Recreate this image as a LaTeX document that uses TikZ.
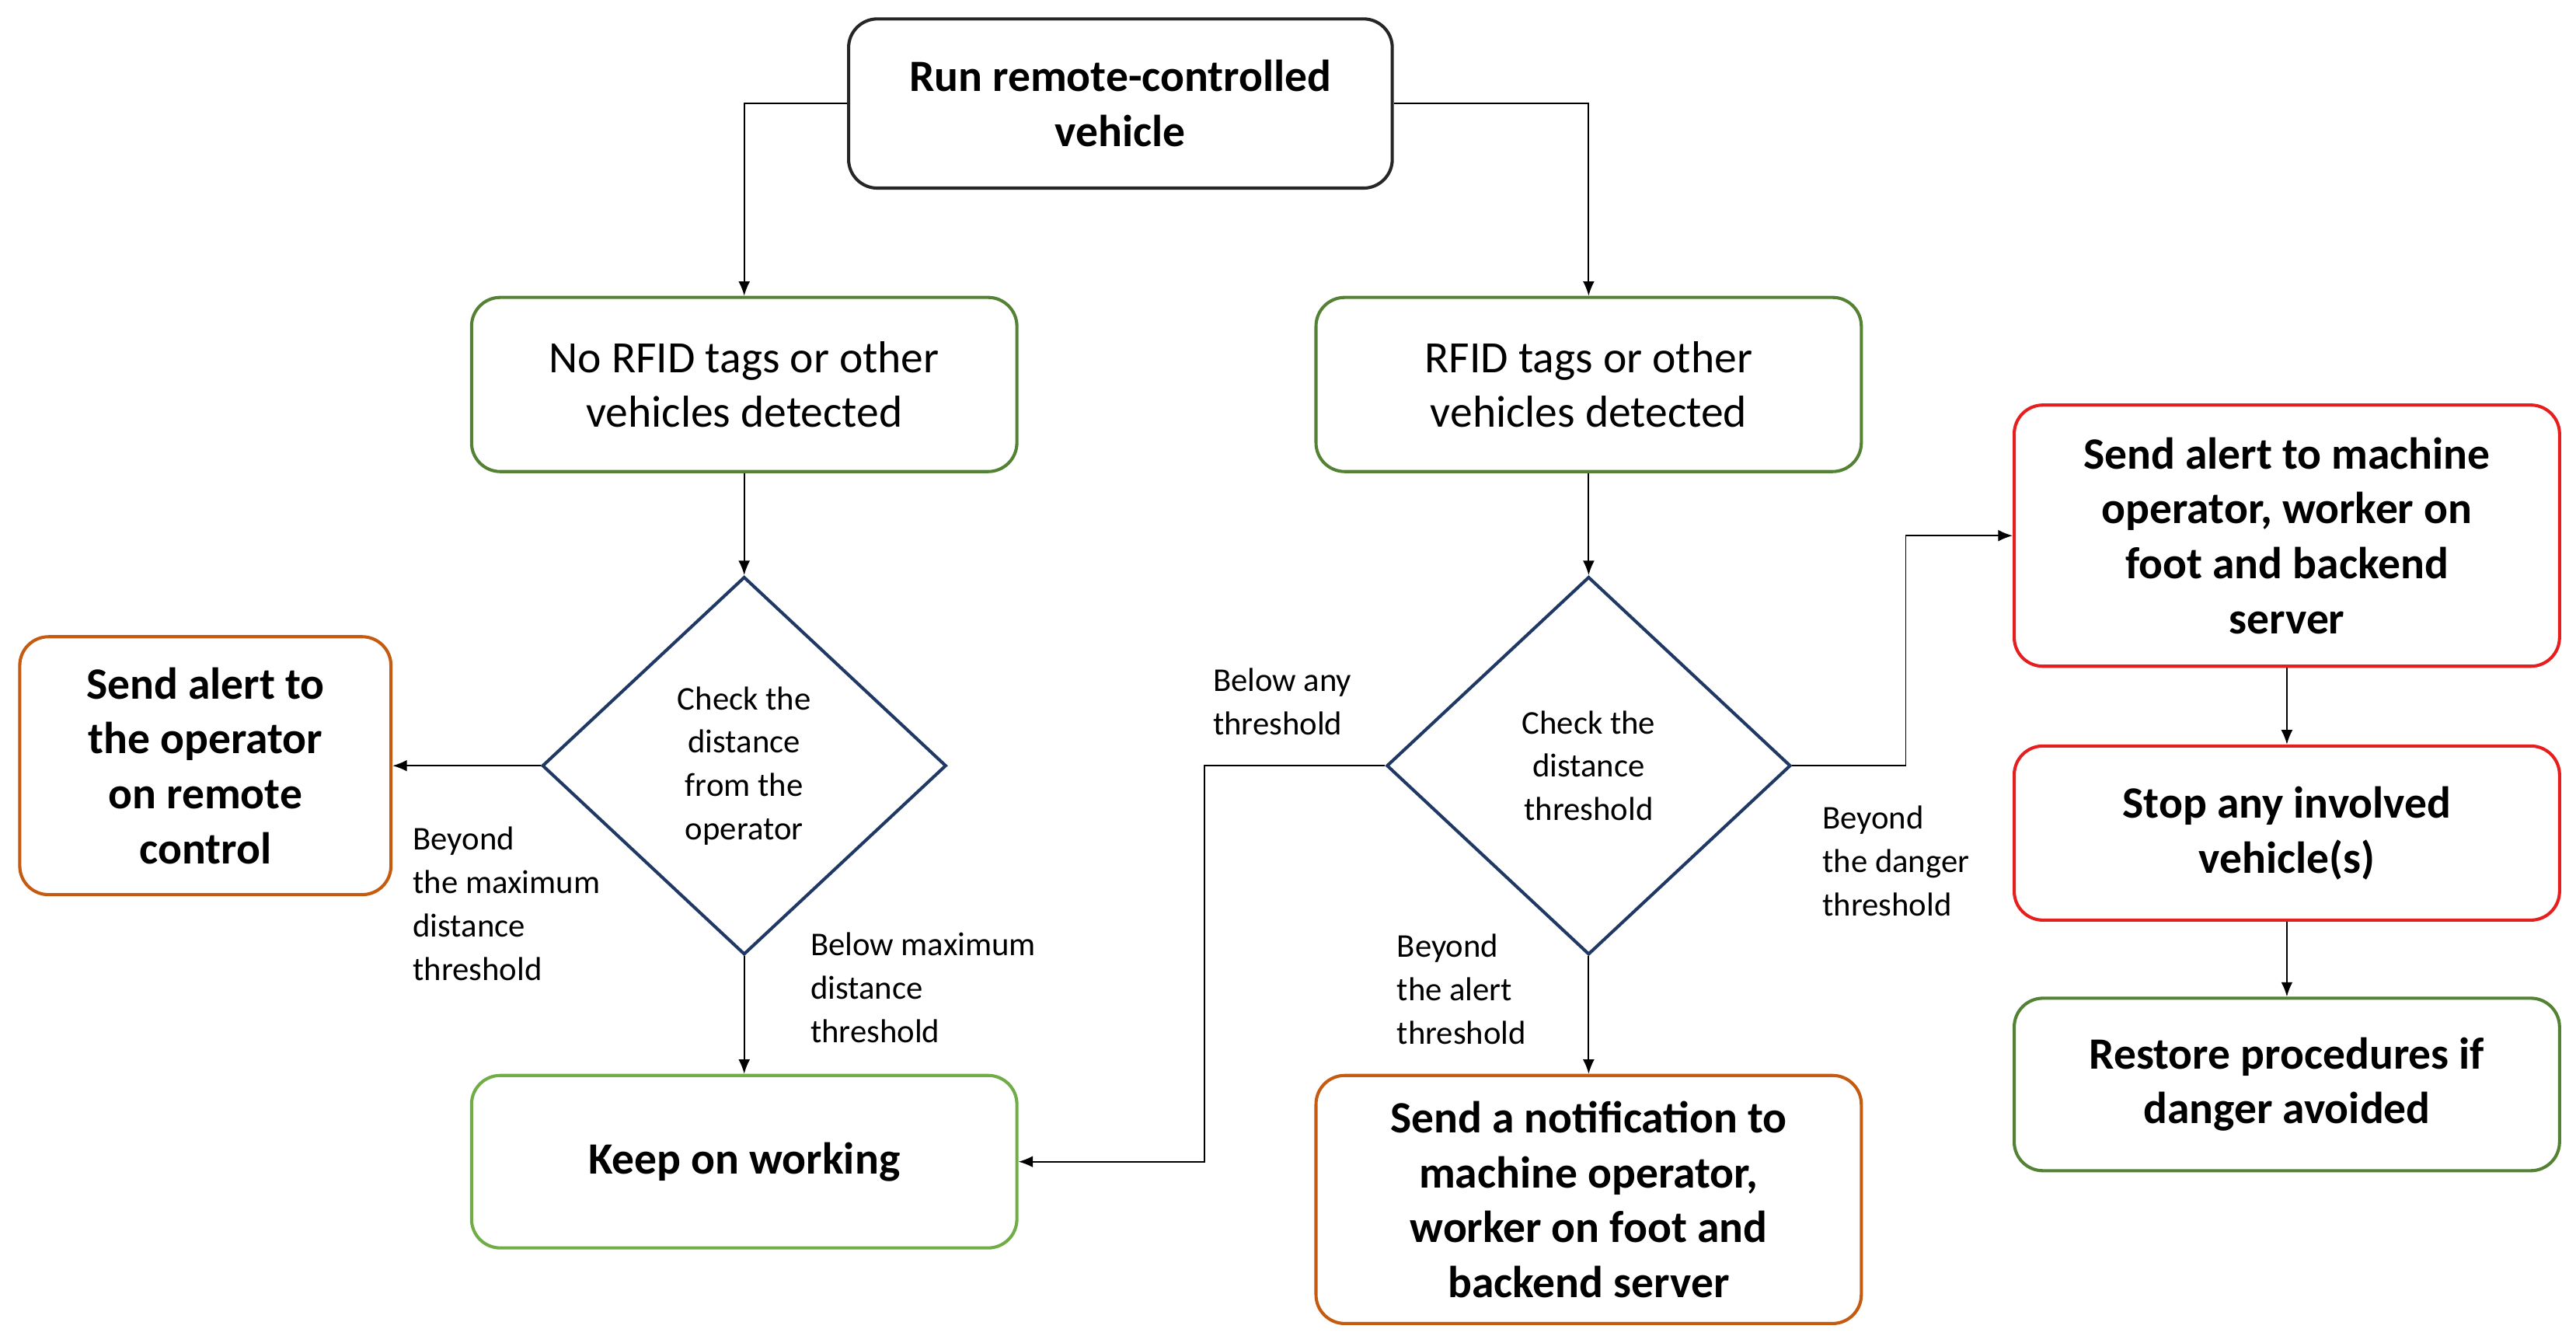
\documentclass[tikz,border=0pt]{standalone}
\usepackage{fontspec}
\setmainfont{Carlito}
\usetikzlibrary{shapes.geometric,arrows.meta}
\definecolor{dgreen}{RGB}{84,130,53}
\definecolor{lgreen}{RGB}{112,173,71}
\definecolor{orng}{RGB}{197,90,17}
\definecolor{rred}{RGB}{230,30,30}
\definecolor{navy}{RGB}{31,56,100}
\begin{document}
\begin{tikzpicture}[x=0.02cm,y=-0.02cm,
 box/.style={draw,rounded corners=0.35cm,line width=1.1pt,align=center,inner sep=0pt},
 big/.style={box,minimum width=6.64cm},
 bt/.style={font=\fontsize{15.5}{19}\selectfont\bfseries},
 rt/.style={font=\fontsize{15.5}{19}\selectfont},
 dia/.style={draw=navy,diamond,line width=1.1pt,minimum width=4.92cm,minimum height=4.6cm,inner sep=0pt,align=center,font=\fontsize{11.5}{15}\selectfont},
 lab/.style={align=left,font=\fontsize{11.5}{15}\selectfont,inner sep=0pt},
 arr/.style={-{Latex[length=5pt,width=4pt]},line width=0.5pt}]
\useasboundingbox (0,0) rectangle (1568,817);
\node[box,bt,draw=black!85,minimum width=6.62cm,minimum height=2.06cm] (top) at (682,63) {Run remote-controlled\\vehicle};
\node[big,rt,draw=dgreen,minimum height=2.12cm] (ng) at (453,234) {No RFID tags or other\\vehicles detected};
\node[big,rt,draw=dgreen,minimum height=2.12cm] (yg) at (967,234) {RFID tags or other\\vehicles detected};
\node[dia] (d1) at (453,466) {Check the\\distance\\from the\\operator};
\node[dia] (d2) at (967,466) {Check the\\distance\\threshold};
\node[box,bt,draw=orng,minimum width=4.52cm,minimum height=3.14cm] (op) at (125,466) {Send alert to\\the operator\\on remote\\control};
\node[big,bt,draw=lgreen,minimum height=2.1cm] (kw) at (453,707) {Keep on working};
\node[big,bt,draw=orng,minimum height=3.02cm] (nt) at (967,730) {Send a notification to\\machine operator,\\worker on foot and\\backend server};
\node[big,bt,draw=rred,minimum height=3.18cm] (r1) at (1392,326) {Send alert to machine\\operator, worker on\\foot and backend\\server};
\node[big,bt,draw=rred,minimum height=2.12cm] (r2) at (1392,507) {Stop any involved\\vehicle(s)};
\node[big,bt,draw=dgreen,minimum height=2.1cm] (rp) at (1392,660) {Restore procedures if\\danger avoided};
\draw[arr] (top.west) -| (ng.north);
\draw[arr] (top.east) -| (yg.north);
\draw[arr] (ng) -- (d1);
\draw[arr] (yg) -- (d2);
\draw[arr] (d1.west) -- (op.east);
\draw[arr] (d1.south) -- (kw.north);
\draw[arr] (d2.south) -- (nt.north);
\coordinate (c1) at (1160,466);
\coordinate (c2) at (733,466);
\draw[arr] (d2.east) -- (c1) |- (r1.west);
\draw[arr] (d2.west) -- (c2) |- (kw.east);
\draw[arr] (r1) -- (r2);
\draw[arr] (r2) -- (rp);
\node[lab,anchor=west] (l1) at (251,550) {Beyond\\the maximum\\distance\\threshold};
\node[lab,anchor=west] (l2) at (493,601) {Below maximum\\distance\\threshold};
\node[lab,anchor=west] (l3) at (738,427) {Below any\\threshold};
\node[lab,anchor=west] (l4) at (850,602) {Beyond\\the alert\\threshold};
\node[lab,anchor=west] (l5) at (1109,524) {Beyond\\the danger\\threshold};
\end{tikzpicture}
\end{document}
